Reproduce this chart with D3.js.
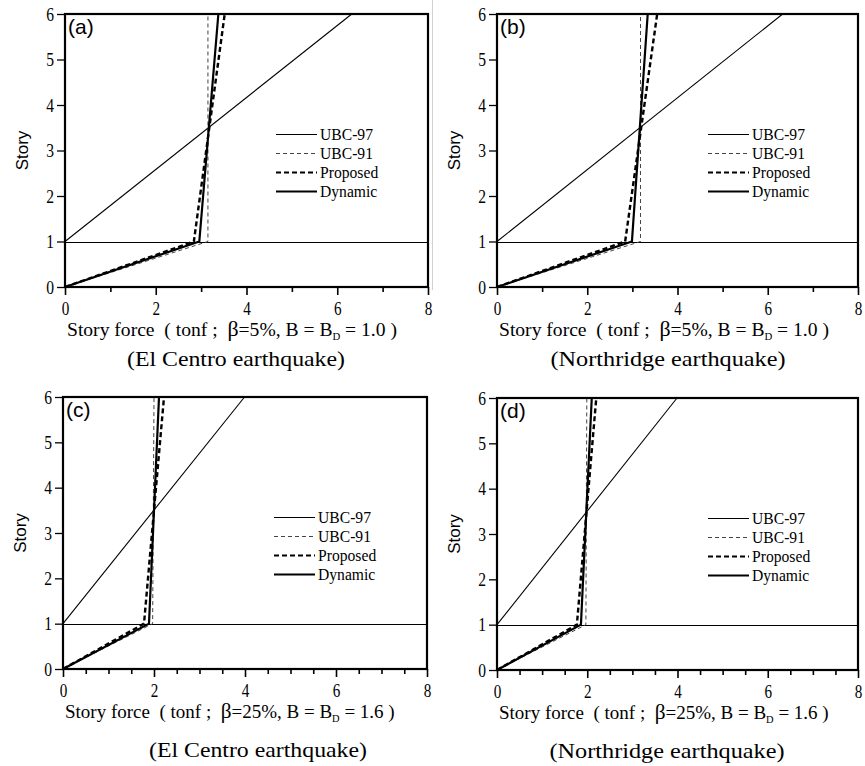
<!DOCTYPE html>
<html><head><meta charset="utf-8">
<script src="https://cdn.jsdelivr.net/npm/d3@7"></script>
<style>body{margin:0;background:#fff}svg{display:block}</style>
</head><body>
<svg id="chart" width="865" height="766"></svg>
<script>
// ---------- data ----------
const forceTicks = [0, 2, 4, 6, 8];
const storyTicks = [0, 1, 2, 3, 4, 5, 6];
const minorTickStep = [1, 1, 0.5, 0.5];
const panelLabels = ["(a)", "(b)", "(c)", "(d)"];
const earthquakes = ["(El Centro earthquake)", "(Northridge earthquake)", "(El Centro earthquake)", "(Northridge earthquake)"];
const dampingRatio = ["5%", "5%", "25%", "25%"];
const dampingFactor = ["1.0", "1.0", "1.6", "1.6"];
const seriesNames = ["UBC-97", "UBC-91", "Proposed", "Dynamic"];
const isolationStory = 1;
const storyLevels = [0, 1, 6];          // stories for UBC-91 / Proposed / Dynamic
const ubc97Stories = [1, 6];            // UBC-97 starts above isolation level
const ubc97 = [[0, 6.32], [0, 6.33], [0, 3.99], [0, 3.99]];
const ubc91 = [[0, 3.15, 3.15], [0, 3.18, 3.18], [0, 1.97, 2.00], [0, 1.97, 1.99]];
const proposed = [[0, 2.84, 3.52], [0, 2.84, 3.55], [0, 1.78, 2.22], [0, 1.77, 2.20]];
const dynamic = [[0, 2.96, 3.38], [0, 2.99, 3.34], [0, 1.89, 2.11], [0, 1.86, 2.10]];

// ---------- layout / style ----------
const layout = [
  {left: 65, top: 14, w: 363, h: 273, sub: 171, subY: 79},
  {left: 497, top: 14, w: 361, h: 273, sub: 171, subY: 79},
  {left: 63, top: 397, w: 364, h: 272, sub: 195, subY: 88},
  {left: 497, top: 398, w: 361, h: 272, sub: 170, subY: 88}
];
const styles = {
  "UBC-97": {w: 1.1, dash: null, color: "#000"},
  "UBC-91": {w: 1, dash: "4,3", color: "#444"},
  "Proposed": {w: 2.4, dash: "5,3", color: "#000"},
  "Dynamic": {w: 2.2, dash: null, color: "#000"}
};
const serif = "'Liberation Serif','Times New Roman',Times,serif";
const sans = "'Liberation Sans',Arial,sans-serif";
const sx = 0.82;   // horizontal squeeze of the reference's text

const svg = d3.select("#chart");

// faint separator seen in the reference
svg.append("line").attr("x1", 432.5).attr("x2", 432.5).attr("y1", 0).attr("y2", 290)
  .attr("stroke", "#d0d0d0").attr("stroke-width", 1);

layout.forEach((L, i) => {
  const g = svg.append("g").attr("transform", `translate(${L.left},${L.top})`);
  const x = d3.scaleLinear().domain([0, 8]).range([0, L.w]);
  const y = d3.scaleLinear().domain([0, 6]).range([L.h, 0]);

  // minor x ticks
  const minor = d3.range(0, 8 + 1e-9, minorTickStep[i]).filter(v => !forceTicks.includes(v));
  g.append("g").attr("transform", `translate(0,${L.h})`)
    .call(d3.axisBottom(x).tickValues(minor).tickSize(5).tickFormat(""))
    .call(a => a.select(".domain").remove())
    .call(a => a.selectAll("line").attr("stroke-width", 1.6));
  // major x ticks
  const xa = g.append("g").attr("transform", `translate(0,${L.h})`)
    .call(d3.axisBottom(x).tickValues(forceTicks).tickSize(8).tickPadding(7).tickFormat(d3.format("d")));
  xa.select(".domain").remove();
  xa.selectAll("line").attr("stroke-width", 1.6);
  xa.selectAll("text").attr("font-family", serif).attr("font-size", 18.5).attr("fill", "#000")
    .attr("transform", `scale(${sx},1)`);

  const ya = g.append("g")
    .call(d3.axisLeft(y).tickValues(storyTicks).tickSize(8).tickPadding(3).tickFormat(d3.format("d")));
  ya.select(".domain").remove();
  ya.selectAll("line").attr("stroke-width", 1.3);
  ya.selectAll("text").attr("font-family", serif).attr("font-size", 19).attr("fill", "#000")
    .attr("x", -11 / sx).attr("transform", `scale(${sx},1)`);

  // isolation level line
  g.append("line").attr("x1", x(0)).attr("x2", x(8))
    .attr("y1", Math.round(y(isolationStory)) + 0.5).attr("y2", Math.round(y(isolationStory)) + 0.5)
    .attr("stroke", "#000").attr("stroke-width", 1.1);

  const line = d3.line().x(d => x(d[0])).y(d => y(d[1]));
  const seriesData = {
    "UBC-97": ubc97[i].map((f, k) => [f, ubc97Stories[k]]),
    "UBC-91": ubc91[i].map((f, k) => [f, storyLevels[k]]),
    "Proposed": proposed[i].map((f, k) => [f, storyLevels[k]]),
    "Dynamic": dynamic[i].map((f, k) => [f, storyLevels[k]])
  };
  seriesNames.forEach(name => {
    const s = styles[name];
    g.append("path").attr("d", line(seriesData[name])).attr("fill", "none")
      .attr("stroke", s.color).attr("stroke-width", s.w)
      .attr("stroke-dasharray", s.dash).attr("stroke-linejoin", "miter");
  });

  // frame
  g.append("rect").attr("x", 0).attr("y", 0).attr("width", L.w).attr("height", L.h)
    .attr("fill", "none").attr("stroke", "#000").attr("stroke-width", 2.2);

  // panel label
  g.append("text").attr("x", 3).attr("y", 20).attr("font-family", sans).attr("font-size", 21)
    .text(panelLabels[i]);

  // legend
  seriesNames.forEach((name, k) => {
    const s = styles[name];
    const ly = Math.round(120 + k * 19) + 0.5;
    g.append("line").attr("x1", 211).attr("x2", 252).attr("y1", ly).attr("y2", ly)
      .attr("stroke", s.color).attr("stroke-width", Math.min(s.w, 2.2))
      .attr("stroke-dasharray", s.dash);
    g.append("text").attr("transform", `translate(255,${ly + 5.5}) scale(0.92,1)`)
      .attr("font-family", serif).attr("font-size", 17).text(name);
  });

  // y label
  g.append("text").attr("transform", `translate(-43,${L.h / 2}) rotate(-90)`)
    .attr("text-anchor", "middle").attr("dy", "0.35em").attr("font-family", sans).attr("font-size", 17)
    .text("Story");

  // x title, fitted to the reference width by font size (no glyph squeezing)
  const t = g.append("text").attr("x", 2).attr("y", L.h + 49).attr("font-family", serif).attr("font-size", 20)
    .style("white-space", "pre");
  t.append("tspan").text("Story force  ( tonf ;  ");
  t.append("tspan").attr("font-size", "1.12em").text("β");
  t.append("tspan").text("=" + dampingRatio[i] + ", B = B");
  t.append("tspan").attr("font-size", "0.55em").attr("dy", 4).text("D");
  t.append("tspan").attr("dy", -4).text(" = " + dampingFactor[i] + " )");
  const natural = t.node().getComputedTextLength();
  if (natural > 0) t.attr("font-size", Math.min(21, 20 * 330 / natural));

  // subtitle
  g.append("text").attr("x", L.sub).attr("y", L.h + L.subY).attr("text-anchor", "middle")
    .attr("font-family", serif).attr("font-size", 22).attr("textLength", i % 2 ? 235 : 218)
    .attr("lengthAdjust", "spacingAndGlyphs").text(earthquakes[i]);
});
</script>
</body></html>
